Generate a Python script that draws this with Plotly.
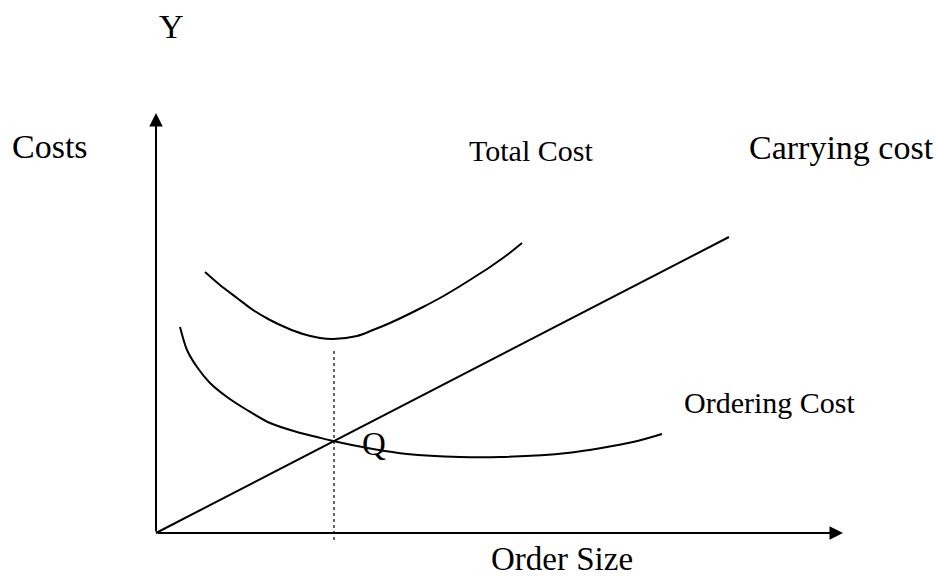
import plotly.graph_objects as go

# order size vs cost (arbitrary units, origin at the corner of the axes)
total_x = [49, 64, 81, 97, 114, 131, 147, 164, 177, 201, 217, 234, 251, 267,
           284, 301, 317, 334, 351, 366]
total_y = [261, 248, 235, 223, 213, 205, 199, 195, 194, 197, 203, 210, 218, 226,
           235, 245, 255, 266, 278, 290]

ordering_x = [24, 31, 41, 54, 71, 91, 114, 141, 161, 177, 217, 251, 304, 344,
              411, 477, 506]
ordering_y = [206, 183, 166, 150, 136, 123, 110, 101, 96, 92, 84, 79, 76, 76,
              80, 91, 99]

carrying_x = [0, 573]
carrying_y = [0, 296]

q_x = 178          # economic order quantity
q_top = 183        # top of the dotted guide
axis_x_end = 687
axis_y_end = 420

SERIF = "Liberation Serif, Times New Roman, serif"
LINE = dict(color="black", width=2)
CURVE = dict(color="black", width=2, shape="spline", smoothing=0.8)

fig = go.Figure()

fig.add_trace(go.Scatter(x=total_x, y=total_y, mode="lines", line=CURVE))
fig.add_trace(go.Scatter(x=ordering_x, y=ordering_y, mode="lines", line=CURVE))
fig.add_trace(go.Scatter(x=carrying_x, y=carrying_y, mode="lines", line=LINE))
fig.add_trace(go.Scatter(x=[q_x, q_x], y=[-7, q_top], mode="lines",
                         line=dict(color="black", width=1.2, dash="dot")))

# axes with arrow heads
for tip_x, tip_y in [(0, axis_y_end), (axis_x_end, 0)]:
    fig.add_annotation(x=tip_x, y=tip_y, ax=0, ay=0, xref="x", yref="y",
                       axref="x", ayref="y", text="", showarrow=True,
                       arrowhead=2, arrowsize=1.35, arrowwidth=2, arrowcolor="black")

labels = [
    ("Y", 1, 507, 34),
    ("Costs", -146, 387, 34),
    ("Total Cost", 311, 383, 30),
    ("Carrying cost", 591, 386, 34),
    ("Ordering Cost", 526, 131, 30),
    ("Q", 204, 89, 33),
    ("Order Size", 333, -26, 33),
]
for txt, lx, ly, size in labels:
    fig.add_annotation(x=lx, y=ly, xref="x", yref="y", text=txt, showarrow=False,
                       xanchor="left", yanchor="middle",
                       font=dict(family=SERIF, size=size, color="black"))

fig.update_layout(
    width=936, height=576,
    margin=dict(l=0, r=0, t=0, b=0),
    paper_bgcolor="white", plot_bgcolor="white",
    showlegend=False,
    xaxis=dict(range=[-156, 780], visible=False, fixedrange=True),
    yaxis=dict(range=[-43, 533], visible=False, fixedrange=True),
)

# drop the page's default body margin so the figure sits at the window corner
fig.write_html("out.html", config={"displayModeBar": False},
               post_script="document.body.style.margin = '0';")
